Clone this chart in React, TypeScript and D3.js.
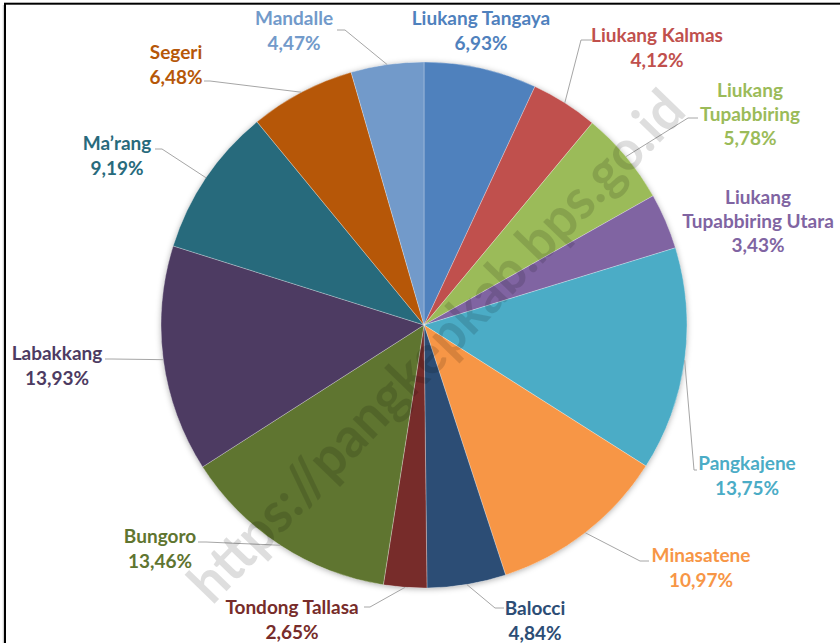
import React, { useEffect, useRef } from 'react';
import * as d3 from 'd3';

// Persentase per kecamatan (searah jarum jam mulai dari atas)
const districts = [
  'Liukang Tangaya', 'Liukang Kalmas', 'Liukang Tupabbiring', 'Liukang Tupabbiring Utara',
  'Pangkajene', 'Minasatene', 'Balocci', 'Tondong Tallasa', 'Bungoro', 'Labakkang',
  'Ma’rang', 'Segeri', 'Mandalle',
];
const shares = [6.93, 4.12, 5.78, 3.43, 13.75, 10.97, 4.84, 2.65, 13.46, 13.93, 9.19, 6.48, 4.47];
const colors = [
  '#4F81BD', '#C0504D', '#9BBB59', '#8064A2', '#4BACC6', '#F79646', '#2C4D75',
  '#772C2A', '#5F7530', '#4D3B62', '#276A7C', '#B65708', '#729ACA',
];
const watermark = 'https://pangkepkab.bps.go.id';

// posisi label (layout saja): baris teks, pusat x, y baris pertama, titik leader [ujung label, siku]
type LabelPos = { lines: string[]; x: number; y: number; leader?: [number, number][] };
const labelLayout: Record<string, LabelPos> = {
  'Liukang Tangaya': { lines: ['Liukang Tangaya'], x: 481, y: 18 },
  'Liukang Kalmas': { lines: ['Liukang Kalmas'], x: 657, y: 35, leader: [[592, 40], [581, 40]] },
  'Liukang Tupabbiring': { lines: ['Liukang', 'Tupabbiring'], x: 750, y: 90, leader: [[698, 118], [688, 118]] },
  'Liukang Tupabbiring Utara': { lines: ['Liukang', 'Tupabbiring Utara'], x: 758, y: 197 },
  'Pangkajene': { lines: ['Pangkajene'], x: 747, y: 463, leader: [[697, 470], [694, 470]] },
  'Minasatene': { lines: ['Minasatene'], x: 701, y: 555, leader: [[649, 561], [640, 561]] },
  'Balocci': { lines: ['Balocci'], x: 535, y: 608, leader: [[504, 608], [495, 608]] },
  'Tondong Tallasa': { lines: ['Tondong Tallasa'], x: 292, y: 607, leader: [[364, 607], [370, 607]] },
  'Bungoro': { lines: ['Bungoro'], x: 160, y: 536, leader: [[198, 542], [206, 542]] },
  'Labakkang': { lines: ['Labakkang'], x: 57, y: 353, leader: [[105, 359], [112, 359]] },
  'Ma’rang': { lines: ['Ma’rang'], x: 117, y: 143, leader: [[155, 149], [162, 149]] },
  'Segeri': { lines: ['Segeri'], x: 176, y: 52, leader: [[204, 81], [210, 81]] },
  'Mandalle': { lines: ['Mandalle'], x: 294, y: 18, leader: [[337, 30], [345, 30]] },
};

const App = () => {
  const svgRef = useRef<SVGSVGElement>(null);

  useEffect(() => {
    const root = d3.select(svgRef.current);
    root.selectAll('*').remove();

    const width = 840;
    const height = 643;
    const cx = 424;
    const cy = 325;
    const radius = 263;
    const font = 'Lato, "Open Sans", sans-serif';

    root.attr('width', width).attr('height', height);

    const defs = root.append('defs');
    const filter = defs.append('filter').attr('id', 'pieShadow')
      .attr('x', '-10%').attr('y', '-10%').attr('width', '120%').attr('height', '120%');
    filter.append('feDropShadow')
      .attr('dx', 0).attr('dy', 1).attr('stdDeviation', 3)
      .attr('flood-color', '#000').attr('flood-opacity', 0.35);

    root.append('rect').attr('width', width).attr('height', height).attr('fill', '#fff');

    // bingkai
    root.append('rect')
      .attr('x', 5).attr('y', 3.7).attr('width', width + 20).attr('height', height + 20)
      .attr('fill', 'none').attr('stroke', '#000').attr('stroke-width', 2);
    root.append('line')
      .attr('x1', 3.3).attr('x2', 3.3).attr('y1', 5).attr('y2', height)
      .attr('stroke', '#c8c8c8').attr('stroke-width', 1);

    const data = districts.map((name, i) => ({ name, value: shares[i], color: colors[i] }));

    const pie = d3.pie<any>()
      .sort(null)
      .value(d => d.value)
      .startAngle(0)
      .endAngle(2 * Math.PI);

    const arc = d3.arc<any>().innerRadius(0).outerRadius(radius);

    const g = root.append('g').attr('transform', `translate(${cx},${cy})`);
    const arcs = pie(data);

    g.append('circle').attr('r', radius - 0.5).attr('fill', '#fff').attr('filter', 'url(#pieShadow)');

    g.selectAll('path.slice')
      .data(arcs)
      .enter()
      .append('path')
      .attr('class', 'slice')
      .attr('d', arc)
      .attr('fill', d => d.data.color)
      .attr('stroke', 'rgba(255,255,255,0.45)')
      .attr('stroke-width', 0.6);

    // garis penunjuk
    arcs.forEach(a => {
      const lay = labelLayout[a.data.name];
      if (!lay || !lay.leader) return;
      const mid = (a.startAngle + a.endAngle) / 2;
      const px = cx + radius * Math.sin(mid);
      const py = cy - radius * Math.cos(mid);
      const pts: [number, number][] = [...lay.leader, [px, py]];
      root.append('path')
        .attr('d', d3.line()(pts))
        .attr('fill', 'none')
        .attr('stroke', '#a6a6a6')
        .attr('stroke-width', 1);
    });

    // label
    const lineGap = 24;
    arcs.forEach(a => {
      const lay = labelLayout[a.data.name];
      const text = root.append('text')
        .attr('text-anchor', 'middle')
        .style('font-family', font)
        .style('font-size', '19px')
        .style('font-weight', 'bold')
        .attr('fill', a.data.color);
      const lines = [...lay.lines, `${a.data.value.toFixed(2).replace('.', ',')}%`];
      lines.forEach((ln, i) => {
        text.append('tspan')
          .attr('x', lay.x)
          .attr('y', lay.y + i * (lay.lines.length > 1 ? lineGap : 25.5))
          .attr('dy', '0.36em')
          .text(ln);
      });
    });

    // watermark
    root.append('text')
      .attr('transform', 'translate(436,346) rotate(-46)')
      .attr('text-anchor', 'middle')
      .attr('dy', '0.35em')
      .attr('textLength', 685)
      .attr('lengthAdjust', 'spacingAndGlyphs')
      .style('font-family', font)
      .style('font-size', '56px')
      .style('font-weight', 'bold')
      .attr('fill', '#000')
      .attr('fill-opacity', 0.13)
      .text(watermark);
  }, []);

  return (
    <svg ref={svgRef} style={{ position: 'absolute', left: 0, top: 0 }}></svg>
  );
};

export default App;
